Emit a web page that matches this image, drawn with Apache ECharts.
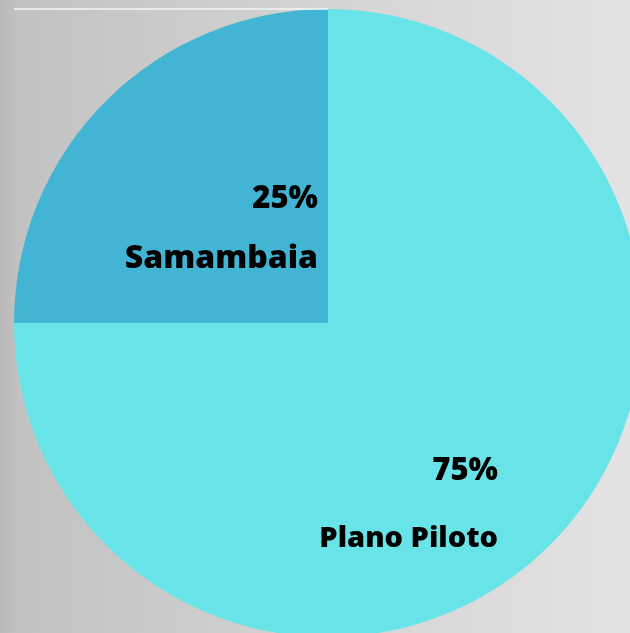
<!DOCTYPE html>
<html>
<head>
<meta charset="utf-8">
<script src="https://cdn.jsdelivr.net/npm/echarts@6/dist/echarts.min.js"></script>
<style>
html,body{margin:0;padding:0;}
#chart{width:630px;height:633px;}
</style>
</head>
<body>
<div id="chart"></div>
<script>
const categories = ['Plano Piloto', 'Samambaia'];
const values = [75, 25];
const colors = ['#68E4E8', '#42B4D4'];

const chart = echarts.init(document.getElementById('chart'));
const cx = 328, cy = 323, R = 314;

chart.setOption({
  backgroundColor: {
    type: 'linear', x: 0, y: 0, x2: 1, y2: 0,
    colorStops: [
      { offset: 0, color: '#b9b9b9' },
      { offset: 0.03, color: '#c2c2c2' },
      { offset: 0.5, color: '#d3d3d3' },
      { offset: 1, color: '#e3e3e3' }
    ]
  },
  animation: false,
  graphic: [{
    type: 'line',
    shape: { x1: 14, y1: 9, x2: cx, y2: 9 },
    style: { stroke: '#f4f4f4', lineWidth: 1.5 },
    z: 10
  }],
  series: [{
    type: 'pie',
    center: [cx, cy],
    radius: [0, R],
    startAngle: 90,
    clockwise: true,
    silent: true,
    data: categories.map((c, i) => ({
      name: c, value: values[i], itemStyle: { color: colors[i] }
    })),
    label: {
      show: true,
      position: 'inside',
      align: 'right',
      formatter: function (p) {
        return p.dataIndex === 0
          ? '{pa|' + p.value + '%}\n{na|' + p.name + '}'
          : '{pb|' + p.value + '%}\n{nb|' + p.name + '}';
      },
      rich: {
        pa: { fontFamily: 'Open Sans', fontWeight: 800, fontSize: 31, color: '#000', lineHeight: 67, align: 'right' },
        na: { fontFamily: 'Open Sans', fontWeight: 800, fontSize: 29, color: '#000', lineHeight: 67, align: 'right' },
        pb: { fontFamily: 'Open Sans', fontWeight: 800, fontSize: 31, color: '#000', lineHeight: 60, align: 'right' },
        nb: { fontFamily: 'Open Sans', fontWeight: 800, fontSize: 32, color: '#000', lineHeight: 60, align: 'right' }
      }
    },
    labelLine: { show: false },
    labelLayout: function (params) {
      if (params.dataIndex === 0) {
        return { x: cx + 170, y: cy + 182, align: 'right', verticalAlign: 'middle' };
      }
      return { x: cx - 10, y: cy - 94, align: 'right', verticalAlign: 'middle' };
    }
  }]
});
</script>
</body>
</html>
